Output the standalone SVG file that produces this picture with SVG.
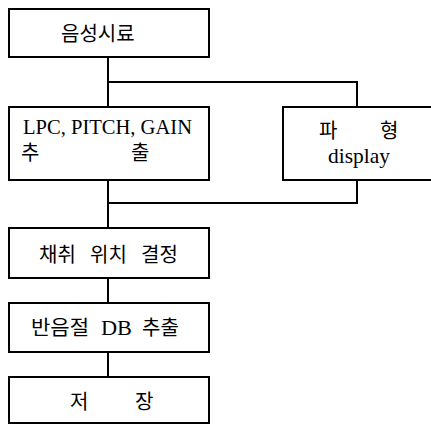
<svg xmlns="http://www.w3.org/2000/svg" width="431" height="425" viewBox="0 0 431 425">
<style>
.box{fill:#fff;stroke:#000;stroke-width:2}
.ln{fill:none;stroke:#000;stroke-width:2}
.k{font-family:"Noto Sans CJK KR","Noto Sans CJK SC",sans-serif;font-size:20px;fill:#000}
.s{font-family:"Liberation Serif","Times New Roman",Times,"DejaVu Serif",serif;font-size:21px;fill:#000}
</style>
<rect width="431" height="425" fill="#fff"/>
<g id="connectors">
<path class="ln" d="M108 57V107M108 82H357V107M108 180V228M357 180V203H108M108 278V303M108 352V377"/>
</g>
<g id="n1"><rect class="box" x="9" y="9" width="200" height="48"/><text class="k" x="61" y="41">음성시료</text></g>
<g id="n2"><rect class="box" x="9" y="107" width="200" height="73"/><text class="s" x="23" y="134" textLength="169" lengthAdjust="spacingAndGlyphs">LPC, PITCH, GAIN</text><text class="k" x="21" y="160">추</text><text class="k" x="131" y="160">출</text></g>
<g id="n3"><rect class="box" x="283" y="107" width="150" height="73"/><text class="k" x="319" y="138">파</text><text class="k" x="380" y="138">형</text><text class="s" x="328" y="163" textLength="62" lengthAdjust="spacingAndGlyphs">display</text></g>
<g id="n4"><rect class="box" x="9" y="228" width="200" height="50"/><text class="k" x="39" y="262">채취</text><text class="k" x="90" y="262">위치</text><text class="k" x="141" y="262">결정</text></g>
<g id="n5"><rect class="box" x="9" y="303" width="200" height="49"/><text class="k" x="31" y="335" textLength="58" lengthAdjust="spacingAndGlyphs">반음절</text><text class="s" x="101" y="335" textLength="31" lengthAdjust="spacingAndGlyphs">DB</text><text class="k" x="142" y="335">추출</text></g>
<g id="n6"><rect class="box" x="9" y="377" width="200" height="46"/><text class="k" x="70" y="409">저</text><text class="k" x="135" y="409">장</text></g>
</svg>
